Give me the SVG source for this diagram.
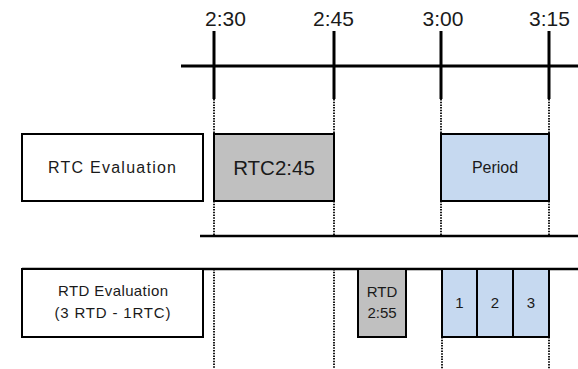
<svg xmlns="http://www.w3.org/2000/svg" width="578" height="369" viewBox="0 0 578 369">
<style>
.t{font-family:"Liberation Sans",Arial,sans-serif;fill:#1a1a1a;text-anchor:middle}
.box{stroke:#000;stroke-width:2}
.white{fill:#fff}
.gray{fill:#c0c0c0}
.blue{fill:#c6d9f0}
.solid{stroke:#000;stroke-width:3;fill:none}
.thin{stroke:#000;stroke-width:2.5;fill:none}
.dot{stroke:#000;stroke-width:1.8;stroke-dasharray:1.5 1.2;fill:none}
</style>
<rect width="578" height="369" fill="#fff"/>
<g id="connectors">
<line class="solid" x1="181" y1="66" x2="578" y2="66"/>
<line class="solid" x1="214" y1="31" x2="214" y2="99"/>
<line class="solid" x1="334" y1="31" x2="334" y2="99"/>
<line class="solid" x1="441" y1="31" x2="441" y2="99"/>
<line class="solid" x1="549" y1="31" x2="549" y2="99"/>
<line class="dot" x1="214" y1="99" x2="214" y2="134"/>
<line class="dot" x1="334" y1="99" x2="334" y2="134"/>
<line class="dot" x1="441" y1="99" x2="441" y2="134"/>
<line class="dot" x1="549" y1="99" x2="549" y2="134"/>
<line class="dot" x1="214" y1="201" x2="214" y2="236"/>
<line class="dot" x1="334" y1="201" x2="334" y2="236"/>
<line class="dot" x1="441" y1="201" x2="441" y2="236"/>
<line class="dot" x1="549" y1="201" x2="549" y2="236"/>
<line class="dot" x1="214" y1="269" x2="214" y2="369"/>
<line class="dot" x1="334" y1="269" x2="334" y2="369"/>
<line class="dot" x1="442" y1="337" x2="442" y2="369"/>
<line class="dot" x1="549" y1="337" x2="549" y2="369"/>
<line class="thin" x1="200" y1="236" x2="578" y2="236"/>
<line class="thin" x1="22" y1="269" x2="578" y2="269"/>
</g>
<g id="labels">
<text class="t" x="225.5" y="26" font-size="21">2:30</text>
<text class="t" x="333.5" y="26" font-size="21">2:45</text>
<text class="t" x="443" y="26" font-size="21">3:00</text>
<text class="t" x="549.5" y="26" font-size="21">3:15</text>
</g>
<g id="rtc-eval">
<rect class="box white" x="22" y="134" width="181" height="67"/>
<text class="t" x="112" y="173" font-size="16" textLength="128" lengthAdjust="spacing">RTC Evaluation</text>
</g>
<g id="rtc245">
<rect class="box gray" x="214" y="134" width="120" height="67"/>
<text class="t" x="274" y="175" font-size="20.5">RTC2:45</text>
</g>
<g id="period">
<rect class="box blue" x="441" y="134" width="108" height="67"/>
<text class="t" x="495" y="173" font-size="16">Period</text>
</g>
<g id="rtd-eval">
<rect class="box white" x="22" y="269" width="181" height="68"/>
<text class="t" x="113" y="296" font-size="15" textLength="110" lengthAdjust="spacing">RTD Evaluation</text>
<text class="t" x="112.5" y="318" font-size="15" textLength="116" lengthAdjust="spacing">(3 RTD - 1RTC)</text>
</g>
<g id="rtd255">
<rect class="box gray" x="358" y="269" width="48" height="68"/>
<text class="t" x="382" y="297" font-size="15">RTD</text>
<text class="t" x="382" y="318" font-size="15">2:55</text>
</g>
<g id="p1">
<rect class="box blue" x="442" y="269" width="35" height="68"/>
<text class="t" x="459.5" y="308" font-size="15">1</text>
</g>
<g id="p2">
<rect class="box blue" x="477" y="269" width="36" height="68"/>
<text class="t" x="495" y="308" font-size="15">2</text>
</g>
<g id="p3">
<rect class="box blue" x="513" y="269" width="36" height="68"/>
<text class="t" x="531" y="308" font-size="15">3</text>
</g>
</svg>
